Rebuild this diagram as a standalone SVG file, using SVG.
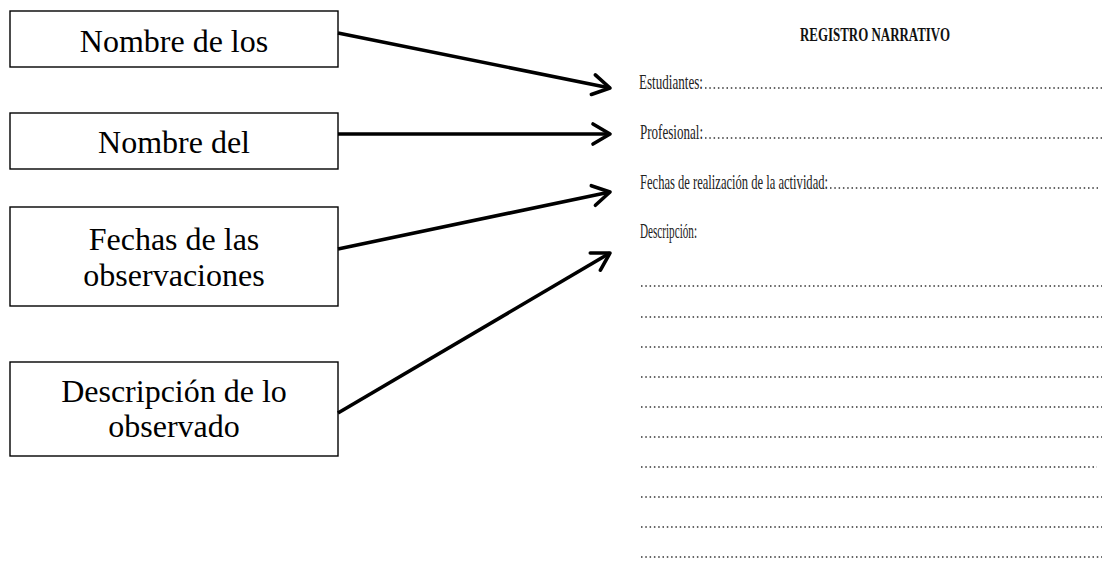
<svg xmlns="http://www.w3.org/2000/svg" width="1102" height="561" viewBox="0 0 1102 561">
  <defs>
    <style>
      .box { fill: #ffffff; stroke: #000000; stroke-width: 1.4; }
      .lbl { font-family: "Liberation Serif", "Times New Roman", serif; font-size: 32px; fill: #000000; text-anchor: middle; }
      .conn { fill: none; stroke: #000000; stroke-width: 3.6; }
      .head { fill: none; stroke: #000000; stroke-width: 3.6; stroke-linecap: round; stroke-linejoin: round; }
      .form { font-family: "Liberation Serif", "Times New Roman", serif; font-size: 21px; fill: #222222; }
      .title { font-family: "Liberation Serif", "Times New Roman", serif; font-size: 19px; font-weight: bold; fill: #111111; }
      .dots { stroke: #333333; stroke-width: 1.5; stroke-dasharray: 1.5 2.8; fill: none; }
    </style>
    <marker id="arrow" markerUnits="userSpaceOnUse" viewBox="-22 -14 26 28" refX="0" refY="0" markerWidth="26" markerHeight="28" orient="auto" overflow="visible">
      <path class="head" d="M -17 -10 L 0 0 L -17 10"/>
    </marker>
  </defs>
  <rect x="0" y="0" width="1102" height="561" fill="#ffffff"/>

  <g id="node-nombre-estudiantes">
    <rect class="box" x="10" y="11" width="328" height="56"/>
    <text class="lbl" x="174" y="52">Nombre de los</text>
  </g>
  <g id="node-nombre-profesional">
    <rect class="box" x="10" y="113" width="328" height="56"/>
    <text class="lbl" x="174" y="153">Nombre del</text>
  </g>
  <g id="node-fechas">
    <rect class="box" x="10" y="207" width="328" height="99"/>
    <text class="lbl" x="174" y="250">Fechas de las</text>
    <text class="lbl" x="174" y="286">observaciones</text>
  </g>
  <g id="node-descripcion">
    <rect class="box" x="10" y="362" width="328" height="94"/>
    <text class="lbl" x="174" y="402">Descripción de lo</text>
    <text class="lbl" x="174" y="437">observado</text>
  </g>

  <g id="connectors">
    <line class="conn" x1="338" y1="33" x2="610" y2="88" marker-end="url(#arrow)"/>
    <line class="conn" x1="338" y1="134" x2="610" y2="134" marker-end="url(#arrow)"/>
    <line class="conn" x1="338" y1="249" x2="610" y2="192" marker-end="url(#arrow)"/>
    <line class="conn" x1="338" y1="413" x2="610" y2="253" marker-end="url(#arrow)"/>
  </g>

  <g id="registro-narrativo">
    <text class="title" x="800" y="41" textLength="150" lengthAdjust="spacingAndGlyphs">REGISTRO NARRATIVO</text>
    <text class="form" x="639" y="89" textLength="64" lengthAdjust="spacingAndGlyphs">Estudiantes:</text>
    <line class="dots" x1="705" y1="88" x2="1102" y2="88"/>
    <text class="form" x="640" y="139" textLength="63" lengthAdjust="spacingAndGlyphs">Profesional:</text>
    <line class="dots" x1="705" y1="138" x2="1102" y2="138"/>
    <text class="form" x="640" y="189" textLength="188" lengthAdjust="spacingAndGlyphs">Fechas de realización de la actividad:</text>
    <line class="dots" x1="830" y1="188" x2="1098" y2="188"/>
    <text class="form" x="640" y="238" textLength="57" lengthAdjust="spacingAndGlyphs">Descripción:</text>
    <line class="dots" x1="641" y1="286" x2="1102" y2="286"/>
    <line class="dots" x1="641" y1="317" x2="1102" y2="317"/>
    <line class="dots" x1="641" y1="347" x2="1102" y2="347"/>
    <line class="dots" x1="641" y1="377" x2="1102" y2="377"/>
    <line class="dots" x1="641" y1="407" x2="1102" y2="407"/>
    <line class="dots" x1="641" y1="437" x2="1102" y2="437"/>
    <line class="dots" x1="641" y1="467" x2="1097" y2="467"/>
    <line class="dots" x1="641" y1="497" x2="1102" y2="497"/>
    <line class="dots" x1="641" y1="527" x2="1102" y2="527"/>
    <line class="dots" x1="641" y1="557" x2="1102" y2="557"/>
  </g>
</svg>
